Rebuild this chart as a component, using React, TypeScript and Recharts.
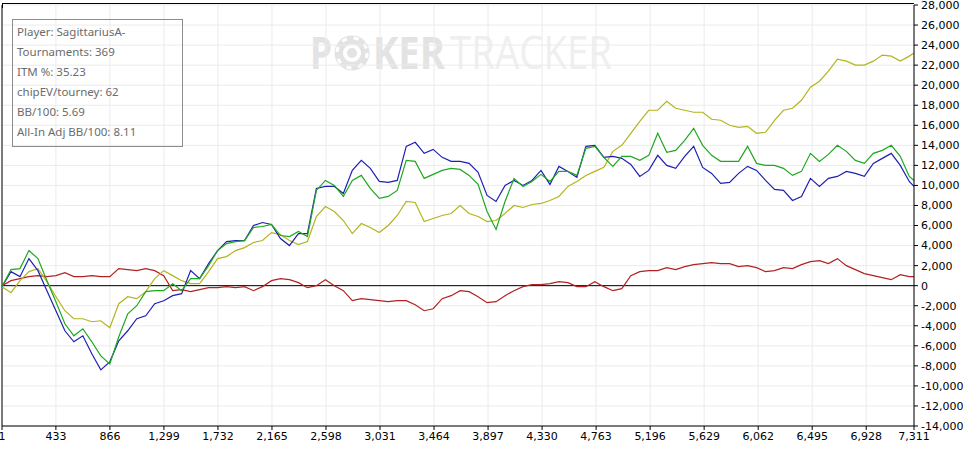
import React from "react";
import { LineChart, Line, XAxis, YAxis, CartesianGrid, ReferenceLine } from "recharts";

const hands = [
  1, 73, 145, 217, 289, 361, 433, 505, 577, 649, 721, 793, 865, 937, 1009, 1081, 1153, 1225, 1297, 1369,
  1441, 1513, 1585, 1657, 1729, 1801, 1873, 1945, 2017, 2089, 2161, 2233, 2305, 2377, 2449, 2521, 2593,
  2665, 2737, 2809, 2881, 2953, 3025, 3097, 3169, 3241, 3313, 3385, 3457, 3529, 3601, 3673, 3745, 3817,
  3889, 3961, 4033, 4105, 4177, 4249, 4321, 4393, 4465, 4537, 4609, 4681, 4753, 4825, 4897, 4969, 5041,
  5113, 5185, 5257, 5329, 5401, 5473, 5545, 5617, 5689, 5761, 5833, 5905, 5977, 6049, 6121, 6193, 6265,
  6337, 6409, 6481, 6553, 6625, 6697, 6769, 6841, 6913, 6985, 7057, 7129, 7201, 7273, 7311,
];

// green
const netWon = [
  -100, 1600, 1700, 3500, 2700, 500, -1600, -3800, -5000, -4300, -5600, -7000, -7800, -5100, -2800, -2000,
  -600, -500, -500, 200, -500, 700, 700, 2000, 3500, 4200, 4400, 4500, 5800, 5900, 6100, 5000, 4900, 5400,
  4900, 9500, 10500, 10000, 8900, 10500, 11000, 9700, 8700, 8900, 9500, 12500, 12400, 10700, 11100, 11500,
  11700, 11600, 11000, 10100, 7400, 5600, 8400, 10700, 9900, 10400, 11100, 10400, 11400, 11400, 11000,
  13700, 13900, 12800, 11900, 12900, 12900, 12500, 13000, 15200, 13300, 13500, 14500, 15700, 14000, 13000,
  12400, 12400, 12400, 13900, 12200, 12000, 12000, 11700, 11000, 11400, 13200, 12400, 13100, 14000, 13400,
  12500, 12200, 13200, 13500, 14000, 12900, 10900, 10500,
];

// olive
const allInAdjusted = [
  -100, -700, 500, 1400, 1700, 400, -1100, -2500, -3300, -3300, -3600, -3500, -4200, -1800, -1100, -1300,
  -600, 700, 1500, 1000, 500, 200, 200, 1400, 2700, 2900, 3500, 3800, 4300, 4500, 5300, 5100, 4500, 4100,
  4400, 6900, 7900, 7400, 6500, 5200, 6200, 5800, 5300, 6000, 7000, 8400, 8300, 6400, 6700, 7000, 7200,
  8000, 7200, 6900, 6400, 6500, 7200, 8000, 7800, 8100, 8200, 8500, 8900, 9900, 10400, 11000, 11400, 11800,
  13400, 14000, 15200, 16400, 17500, 17500, 18400, 17700, 17500, 17300, 17300, 16600, 16500, 16000, 15800,
  15900, 15200, 15300, 16500, 17500, 17700, 18500, 19800, 20400, 21400, 22600, 22400, 22000, 22000, 22400,
  23000, 22900, 22400, 22900, 23200,
];

// blue
const showdownWon = [
  -100, 1400, 900, 2700, 1500, -500, -2500, -4500, -5600, -5000, -6800, -8400, -7600, -5500, -4500, -3300,
  -3000, -1800, -1500, -1000, -800, 1500, 700, 2200, 3500, 4400, 4500, 4500, 6000, 6300, 6100, 4700, 4000,
  5200, 5200, 9700, 9900, 9900, 9200, 11500, 12500, 11700, 10400, 10300, 10500, 13900, 14300, 13200, 13600,
  12800, 12400, 12400, 12200, 11300, 9000, 8400, 10000, 10500, 10000, 10500, 11500, 10100, 11900, 11400,
  10800, 13900, 14000, 12800, 12900, 12700, 12100, 10900, 11500, 13000, 12000, 11700, 12900, 13900, 11800,
  11200, 10200, 10300, 11200, 11900, 11500, 10500, 9600, 9500, 8500, 8900, 10700, 9900, 10700, 10900, 11400,
  11200, 10900, 12200, 12700, 13200, 12000, 10400, 9900,
];

// red
const nonShowdownWon = [
  0, 500, 700, 900, 1000, 900, 1000, 1300, 900, 900, 1000, 900, 900, 1700, 1600, 1500, 1700, 1500, 1000,
  -500, -400, -600, -400, -200, -200, -100, -200, -100, -500, -100, 500, 700, 600, 300, -200, 0, 600, 0,
  -500, -1500, -1300, -1400, -1500, -1600, -1500, -1500, -1900, -2500, -2300, -1300, -1000, -500, -600,
  -1100, -1700, -1600, -1000, -500, -100, 100, 100, 200, 400, 300, -100, -100, 400, -100, -500, -300, 1000,
  1400, 1500, 1500, 1800, 1600, 1900, 2100, 2200, 2300, 2200, 2200, 1900, 2000, 1800, 1400, 1500, 1800,
  1700, 2100, 2400, 2500, 2200, 2700, 2000, 1600, 1200, 1000, 800, 600, 1100, 900, 900,
];

const xTicks = [1, 433, 866, 1299, 1732, 2165, 2598, 3031, 3464, 3897, 4330, 4763, 5196, 5629, 6062, 6495, 6928, 7311];
const yTicks = [
  -14000, -12000, -10000, -8000, -6000, -4000, -2000, 0, 2000, 4000, 6000, 8000, 10000, 12000, 14000, 16000,
  18000, 20000, 22000, 24000, 26000, 28000,
];

const statLines = [
  "Player: SagittariusA-",
  "Tournaments: 369",
  "ITM %: 35.23",
  "chipEV/tourney: 62",
  "BB/100: 5.69",
  "All-In Adj BB/100: 8.11",
];

const data = hands.map((hand, i) => ({
  hand,
  netWon: netWon[i],
  allInAdjusted: allInAdjusted[i],
  showdownWon: showdownWon[i],
  nonShowdownWon: nonShowdownWon[i],
}));

const fmt = (v: number) => v.toLocaleString("en-US");
const tickStyle = { fontFamily: "DejaVu Sans", fontSize: 11, fill: "#000" };

function Watermark() {
  return (
    <svg width={963} height={449} style={{ position: "absolute", left: 0, top: 0 }}>
      <g fontFamily="Open Sans" fontSize={45}>
        <text x={310} y={69} fontWeight={700} fill="#e3e3e3" textLength={22} lengthAdjust="spacingAndGlyphs">
          P
        </text>
        <circle cx={352} cy={53} r={17.5} fill="#e3e3e3" />
        <circle cx={352} cy={53} r={15} fill="none" stroke="#fff" strokeWidth={3} strokeDasharray="5 7" />
        <circle cx={352} cy={53} r={9} fill="#fff" />
        <circle cx={352} cy={53} r={5} fill="#e3e3e3" />
        <text x={373} y={69} fontWeight={700} fill="#e3e3e3" textLength={72} lengthAdjust="spacingAndGlyphs">
          KER
        </text>
        <text x={450} y={69} fontWeight={400} fill="#efefef" textLength={162} lengthAdjust="spacingAndGlyphs">
          TRACKER
        </text>
      </g>
    </svg>
  );
}

export default function App() {
  return (
    <div style={{ position: "absolute", left: 0, top: 0, width: 963, height: 449, background: "#fff" }}>
      <Watermark />
      <div style={{ position: "absolute", left: 0, top: 0 }}>
        <LineChart width={963} height={449} data={data} margin={{ top: 5, right: 0, bottom: 0, left: 2 }}>
          <CartesianGrid stroke="#ebebeb" />
          <XAxis
            dataKey="hand"
            type="number"
            domain={[1, 7311]}
            ticks={xTicks}
            interval={0}
            height={23}
            tickFormatter={fmt}
            tick={tickStyle}
            tickSize={4}
            tickMargin={2}
            axisLine={{ stroke: "#000" }}
            tickLine={{ stroke: "#000" }}
          />
          <YAxis
            orientation="right"
            type="number"
            domain={[-14000, 28000]}
            ticks={yTicks}
            interval={0}
            width={49}
            tickFormatter={fmt}
            tick={tickStyle}
            tickSize={4}
            tickMargin={3}
            axisLine={{ stroke: "#000" }}
            tickLine={{ stroke: "#000" }}
          />
          <ReferenceLine x={1} stroke="#000" />
          <ReferenceLine y={0} stroke="#000" />
          <Line dataKey="nonShowdownWon" stroke="#b22222" strokeWidth={1.2} dot={false} activeDot={false} isAnimationActive={false} />
          <Line dataKey="allInAdjusted" stroke="#b4b41e" strokeWidth={1.2} dot={false} activeDot={false} isAnimationActive={false} />
          <Line dataKey="showdownWon" stroke="#1f1fb4" strokeWidth={1.2} dot={false} activeDot={false} isAnimationActive={false} />
          <Line dataKey="netWon" stroke="#1fa81f" strokeWidth={1.2} dot={false} activeDot={false} isAnimationActive={false} />
        </LineChart>
      </div>
      <div style={{ position: "absolute", left: 2, top: 3, width: 912, height: 1, background: "#000" }} />
      <div style={{ position: "absolute", left: 2, top: 3, width: 1, height: 5, background: "#000" }} />
      <div
        style={{
          position: "absolute",
          left: 12,
          top: 19,
          width: 171,
          height: 128,
          boxSizing: "border-box",
          border: "1px solid #8c8c8c",
          paddingTop: 2,
          paddingLeft: 4,
          fontFamily: "Noto Sans",
          fontSize: 11.5,
          color: "#6b6b6b",
        }}
      >
        {statLines.map((s) => (
          <div key={s} style={{ height: 20, lineHeight: "20px", whiteSpace: "nowrap" }}>
            {s}
          </div>
        ))}
      </div>
    </div>
  );
}
